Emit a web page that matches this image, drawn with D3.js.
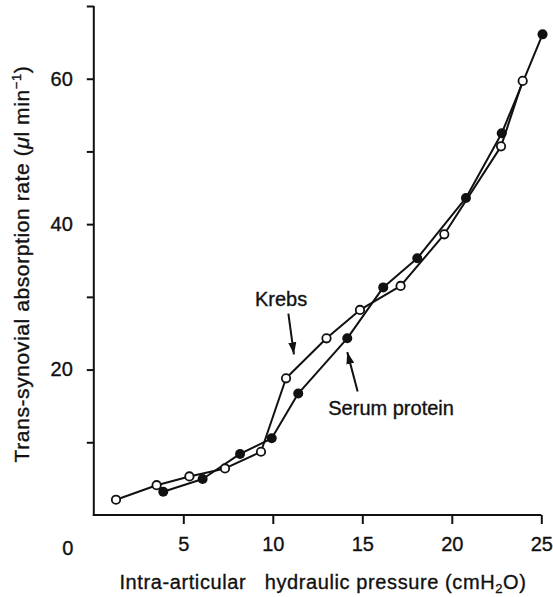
<!DOCTYPE html>
<html>
<head>
<meta charset="utf-8">
<script src="https://cdn.jsdelivr.net/npm/d3@7"></script>
<style>
  body { margin: 0; background: #fff; }
  svg { display: block; }
  text { font-family: "Liberation Sans", Arial, Helvetica, sans-serif; fill: #111; stroke: #111; stroke-width: 0.35; }
</style>
</head>
<body>
<svg id="chart" width="553" height="597"></svg>
<script>
// Krebs (open circles)
var krebsX = [1.24, 3.51, 5.34, 7.33, 9.34, 10.74, 13.0, 14.87, 17.14, 19.58, 22.75, 23.96];
var krebsY = [2.1, 4.1, 5.3, 6.4, 8.7, 18.8, 24.3, 28.2, 31.5, 38.6, 50.7, 59.7];
// Serum protein (filled circles)
var serumX = [3.88, 6.08, 8.17, 9.94, 11.42, 14.16, 16.17, 18.07, 20.79, 22.79, 25.07];
var serumY = [3.2, 4.95, 8.4, 10.55, 16.7, 24.3, 31.3, 35.3, 43.6, 52.5, 66.1];

var xTicks = [5, 10, 15, 20, 25];
var yTicks = [10, 20, 30, 40, 50, 60, 70];
var yLabelled = [20, 40, 60];

var xTitle = "Intra-articular\u00a0\u00a0\u00a0hydraulic pressure (cmH";
var yTitle = "Trans-synovial absorption rate (";

// annotation anchors in data units
var labels = [
	{text: "Krebs", x: 9.0, y: 28.75, ax1: 10.87, ay1: 27.7, ax2: 11.18, ay2: 22.1},
	{text: "Serum protein", x: 13.1, y: 13.75, ax1: 14.74, ay1: 17.0, ax2: 14.16, ay2: 22.4}
];

var svg = d3.select("#chart");

var x = d3.scaleLinear().domain([0, 25]).range([93.8, 541.3]);
var y = d3.scaleLinear().domain([0, 70]).range([515, 6]);

var defs = svg.append("defs");
defs.append("marker")
	.attr("id", "arrow")
	.attr("viewBox", "0 0 12 10")
	.attr("refX", 12).attr("refY", 5)
	.attr("markerWidth", 12).attr("markerHeight", 10)
	.attr("markerUnits", "userSpaceOnUse")
	.attr("orient", "auto")
	.append("path")
		.attr("d", "M0,1 L12,5 L0,9 Z")
		.attr("fill", "#111");

// axes
var xAxis = d3.axisBottom(x).tickValues(xTicks).tickSize(9).tickSizeOuter(0).tickPadding(13);
var gx = svg.append("g")
	.attr("transform", "translate(0," + y(0) + ")")
	.call(xAxis);
gx.select(".domain").attr("stroke", "#111").attr("stroke-width", 2)
	.attr("d", "M" + (x(0) - 1) + ",0H" + x(25));
gx.selectAll(".tick line").attr("stroke", "#111").attr("stroke-width", 2);
gx.selectAll(".tick text").attr("font-size", 20).attr("fill", "#111")
	.attr("font-family", "Liberation Sans, Arial, sans-serif");
gx.append("text")
	.attr("x", x(0) - 26).attr("y", 40)
	.attr("text-anchor", "middle")
	.attr("font-size", 20)
	.text("0");

var yAxis = d3.axisLeft(y).tickValues(yTicks).tickSize(7).tickSizeOuter(0).tickPadding(14)
	.tickFormat(function(d){ return yLabelled.indexOf(d) >= 0 ? d : ""; });
var gy = svg.append("g")
	.attr("transform", "translate(" + x(0) + ",0)")
	.call(yAxis);
gy.select(".domain").attr("stroke", "#111").attr("stroke-width", 2)
	.attr("d", "M0," + y(70) + "V" + (y(0) + 1));
gy.selectAll(".tick line").attr("stroke", "#111").attr("stroke-width", 2);
gy.selectAll(".tick text").attr("font-size", 20).attr("fill", "#111")
	.attr("font-family", "Liberation Sans, Arial, sans-serif");

// axis titles
var xt = svg.append("text")
	.attr("x", 323).attr("y", 589)
	.attr("text-anchor", "middle")
	.attr("font-size", 20)
	.attr("letter-spacing", 0.6);
xt.append("tspan").text(xTitle);
xt.append("tspan").attr("font-size", 13).attr("dy", 4).text("2");
xt.append("tspan").attr("dy", -4).text("O)");

var yt = svg.append("text")
	.attr("transform", "translate(29," + 264 + ") rotate(-90)")
	.attr("text-anchor", "middle")
	.attr("font-size", 21)
	.attr("letter-spacing", 0.6);
yt.append("tspan").text(yTitle);
yt.append("tspan").attr("font-style", "italic").text("\u03bc");
yt.append("tspan").text("l min");
yt.append("tspan").attr("font-size", 13).attr("dy", -8).text("\u22121");
yt.append("tspan").attr("dy", 8).text(")");

// lines
var makeSeries = function(xs, ys){
	return xs.map(function(v, i){ return {x: v, y: ys[i]}; });
};
var krebs = makeSeries(krebsX, krebsY);
var serum = makeSeries(serumX, serumY);

var line = d3.line()
	.x(function(d){ return x(d.x); })
	.y(function(d){ return y(d.y); });

[krebs, serum].forEach(function(s){
	svg.append("path")
		.datum(s)
		.attr("fill", "none")
		.attr("stroke", "#111")
		.attr("stroke-width", 2)
		.attr("stroke-linejoin", "round")
		.attr("d", line);
});

svg.append("g").selectAll("circle")
	.data(serum)
	.enter().append("circle")
		.attr("cx", function(d){ return x(d.x); })
		.attr("cy", function(d){ return y(d.y); })
		.attr("r", 5)
		.attr("fill", "#111");

svg.append("g").selectAll("circle")
	.data(krebs)
	.enter().append("circle")
		.attr("cx", function(d){ return x(d.x); })
		.attr("cy", function(d){ return y(d.y); })
		.attr("r", 4.2)
		.attr("fill", "#fff")
		.attr("stroke", "#111")
		.attr("stroke-width", 1.8);

// annotations
labels.forEach(function(l){
	svg.append("text")
		.attr("x", x(l.x)).attr("y", y(l.y))
		.attr("font-size", 20)
		.text(l.text);
	svg.append("line")
		.attr("x1", x(l.ax1)).attr("y1", y(l.ay1))
		.attr("x2", x(l.ax2)).attr("y2", y(l.ay2))
		.attr("stroke", "#111")
		.attr("stroke-width", 2)
		.attr("marker-end", "url(#arrow)");
});
</script>
</body>
</html>
